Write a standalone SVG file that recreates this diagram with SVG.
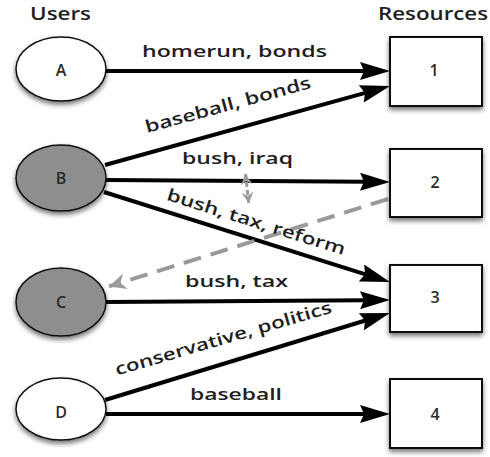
<svg xmlns="http://www.w3.org/2000/svg" width="490" height="457" viewBox="0 0 490 457">
<style>
.hdr{font-family:"Open Sans","DejaVu Sans",sans-serif;font-weight:600;font-size:18px;fill:#1e1e1e}
.lbl{font-family:"Open Sans","DejaVu Sans",sans-serif;font-weight:600;font-size:17px;fill:#1e1e1e}
.nl{font-family:"Open Sans","DejaVu Sans",sans-serif;font-weight:600;font-size:16px;fill:#2a2a2a;text-anchor:middle}
.user{stroke:#111;stroke-width:1.5}
.white{fill:#fff}
.grey{fill:#8e8e8e}
.res{fill:#fff;stroke:#111;stroke-width:2}
.edge{stroke:#000;stroke-width:4;fill:none}
.dash{stroke:#9a9a9a;stroke-width:4;fill:none;stroke-dasharray:18 10}
.dash2{stroke:#9a9a9a;stroke-width:3;fill:none;stroke-dasharray:5 3}
</style>
<defs>
<filter id="sh" x="-30%" y="-30%" width="160%" height="170%">
<feGaussianBlur in="SourceAlpha" stdDeviation="2.5"/>
<feOffset dx="0" dy="3" result="b"/>
<feComponentTransfer><feFuncA type="linear" slope="0.55"/></feComponentTransfer>
<feMerge><feMergeNode/><feMergeNode in="SourceGraphic"/></feMerge>
</filter>
<marker id="ah" markerUnits="userSpaceOnUse" viewBox="-6 -9 30 18" markerWidth="30" markerHeight="18" refX="0" refY="0" orient="auto">
<path d="M-6,-9 L24,0 L-6,9 L-2,0 z" fill="#000"/>
</marker>
<marker id="gh" markerUnits="userSpaceOnUse" viewBox="-18 -9 20 18" markerWidth="20" markerHeight="18" refX="0" refY="0" orient="auto">
<path d="M-17,-8 L0,0 L-17,8 L-12,0 z" fill="#9a9a9a"/>
</marker>
<marker id="gs" markerUnits="userSpaceOnUse" viewBox="-12 -7 14 14" markerWidth="14" markerHeight="14" refX="0" refY="0" orient="auto">
<path d="M-11,-6 L0,0 L-11,6 L-7,0 z" fill="#9a9a9a"/>
</marker>
<marker id="gs0" markerUnits="userSpaceOnUse" viewBox="-12 -7 14 14" markerWidth="14" markerHeight="14" refX="0" refY="0" orient="auto-start-reverse">
<path d="M-11,-6 L0,0 L-11,6 L-7,0 z" fill="#9a9a9a"/>
</marker>
</defs>
<rect width="490" height="457" fill="#fff"/>

<text class="hdr" x="30" y="20" textLength="61" lengthAdjust="spacingAndGlyphs">Users</text>
<text class="hdr" x="378" y="20" textLength="110" lengthAdjust="spacingAndGlyphs">Resources</text>

<g id="connectors">
<line class="edge" x1="106" y1="71" x2="366" y2="71" marker-end="url(#ah)"/>
<line class="edge" x1="105" y1="165" x2="367" y2="92.4" marker-end="url(#ah)"/>
<line class="edge" x1="106" y1="180" x2="366" y2="181.8" marker-end="url(#ah)"/>
<line class="edge" x1="104" y1="192" x2="367.1" y2="274.8" marker-end="url(#ah)"/>
<line class="edge" x1="106" y1="302" x2="366" y2="300.2" marker-end="url(#ah)"/>
<line class="edge" x1="105" y1="400" x2="367" y2="320" marker-end="url(#ah)"/>
<line class="edge" x1="106" y1="414" x2="366" y2="414" marker-end="url(#ah)"/>
<line class="dash" x1="388" y1="199" x2="109" y2="286.4" marker-end="url(#gh)"/>
<line class="dash2" x1="245.5" y1="174" x2="248.7" y2="203" marker-start="url(#gs0)" marker-end="url(#gs)"/>

<text class="lbl" x="142" y="57" textLength="185" lengthAdjust="spacingAndGlyphs">homerun, bonds</text>
<text class="lbl" transform="translate(229.5,110.5) rotate(-15.3)" text-anchor="middle" textLength="171" lengthAdjust="spacingAndGlyphs">baseball, bonds</text>
<text class="lbl" x="182" y="164" textLength="111" lengthAdjust="spacingAndGlyphs">bush, iraq</text>
<text class="lbl" transform="translate(254.5,227.5) rotate(17.3)" text-anchor="middle" textLength="186" lengthAdjust="spacingAndGlyphs">bush, tax, reform</text>
<text class="lbl" x="185" y="287" textLength="103" lengthAdjust="spacingAndGlyphs">bush, tax</text>
<text class="lbl" transform="translate(225,344) rotate(-16.3)" text-anchor="middle" textLength="225" lengthAdjust="spacingAndGlyphs">conservative, politics</text>
<text class="lbl" x="190" y="400" textLength="92" lengthAdjust="spacingAndGlyphs">baseball</text>
</g>

<g id="user-A"><ellipse class="user white" cx="61" cy="69" rx="45" ry="32" filter="url(#sh)"/><text class="nl" x="61" y="76">A</text></g>
<g id="user-B"><ellipse class="user grey" cx="61" cy="178" rx="45" ry="33" filter="url(#sh)"/><text class="nl" x="61" y="184">B</text></g>
<g id="user-C"><ellipse class="user grey" cx="61" cy="302" rx="45" ry="34" filter="url(#sh)"/><text class="nl" x="61" y="308">C</text></g>
<g id="user-D"><ellipse class="user white" cx="61" cy="409" rx="45" ry="31" filter="url(#sh)"/><text class="nl" x="61" y="418">D</text></g>

<g id="res-1"><rect class="res" x="390" y="37" width="92" height="69" filter="url(#sh)"/><text class="nl" x="434" y="76">1</text></g>
<g id="res-2"><rect class="res" x="390" y="149" width="92" height="68" filter="url(#sh)"/><text class="nl" x="435" y="188">2</text></g>
<g id="res-3"><rect class="res" x="390" y="265" width="92" height="67" filter="url(#sh)"/><text class="nl" x="435" y="303">3</text></g>
<g id="res-4"><rect class="res" x="390" y="379" width="92" height="69" filter="url(#sh)"/><text class="nl" x="435" y="420">4</text></g>
</svg>
